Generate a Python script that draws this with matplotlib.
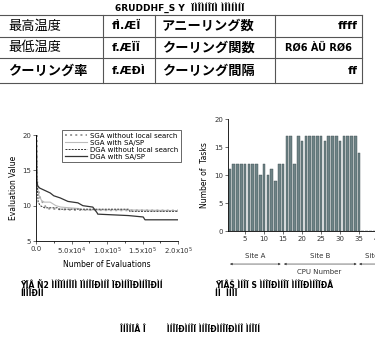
import matplotlib
matplotlib.use('Agg')
import matplotlib.pyplot as plt
import numpy as np

# table of SA parameters (as printed, glyphs garbled in the source)
TITLE = '6RUDDHF_S Y  ÏÌÎÌÍÎÏÌ ÌÎÌÍÌÍÏ'
ROW_NAMES_1 = ['最高温度', '最低温度', 'クーリング率']
ROW_VALUES_1 = ['fÌ.ÆÏ', 'f.ÆÏÏ', 'f.ÆÐÌ']
ROW_NAMES_2 = ['アニーリング数', 'クーリング関数', 'クーリング間隔']
ROW_VALUES_2 = ['ffff', 'RØ6 ÀÜ RØ6', 'ff']

# evaluation value vs number of evaluations
sga_plain_x = [1200, 1200, 2500, 6000, 15000, 50000, 200000]
sga_plain_y = [20, 14.0, 12.5, 11.0, 9.6, 9.4, 9.3]
sga_sasp_x = [600, 1500, 4000, 8000, 12000, 20000, 28000, 35000, 60000, 65000, 130000, 200000]
sga_sasp_y = [20, 13.0, 11.5, 10.7, 10.5, 10.5, 10.0, 9.8, 9.6, 9.4, 9.4, 9.3]
dga_plain_x = [600, 1200, 3000, 6000, 12000, 30000, 32000, 130000, 132000, 200000]
dga_plain_y = [20, 14.0, 10.5, 10.0, 9.7, 9.7, 9.5, 9.5, 9.2, 9.2]
dga_sasp_x = [600, 1000, 2500, 5000, 20000, 25000, 34000, 45000, 59000, 66000,
              80000, 86000, 87000, 130000, 151000, 153500, 200000]
dga_sasp_y = [20, 13.5, 12.8, 12.5, 11.8, 11.4, 11.1, 10.6, 10.4, 10.0,
              9.8, 9.0, 8.8, 8.6, 8.4, 8.0, 8.0]

# tasks per CPU
cpu_ids = list(range(1, 46))
tasks = [11, 12, 12, 12, 12, 12, 12, 12, 10, 12, 10, 11, 9, 12, 12,
         17, 17, 12, 17, 16, 17, 17, 17, 17, 17, 16, 17, 17, 17, 16,
         17, 17, 17, 17, 14] + [0] * 10
sites = [('Site A', 1.0, 14.4), ('Site B', 15.2, 34.4), ('Site C', 35.0, 45.0)]

CAP_LEFT = ['ŸÏÂ Ñ2 ÌÍÎÏÌÍÎÏÌ ÏÌÍÎÏÐÌÍÎ ÏÐÌÍÎÏÐÌÍÎÏÐÌÍ', 'ÍÌÎÏÐÌÍ']
CAP_RIGHT = ['ŸÏÂŠ ÌÍÎÏ S ÌÍÎÏÐÌÍÎÏ ÌÍÎÏÐÌÍÎÏÐÂ', 'ÍÌ  ÌÍÎÏ']
CAP_BOTTOM = 'ÎÍÎÍÏÂ Î        ÌÍÎÏÐÌÍÎÏ ÌÍÎÏÐÌÍÎÏÐÌÍÎ ÌÍÎÏÍ'

W, H = 375, 342
fig = plt.figure(figsize=(W / 100, H / 100), dpi=100)
narrow = ['Liberation Sans Narrow', 'DejaVu Sans']
jp = ['Noto Sans CJK JP', 'DejaVu Sans']

# overlay axes in pixel coordinates for table and captions
bg = fig.add_axes([0, 0, 1, 1])
bg.set_xlim(0, W)
bg.set_ylim(H, 0)
bg.axis('off')

bg.text(180, 8, TITLE, ha='center', va='center', fontsize=6.5, family=narrow, fontweight='bold')
rows_y = [15, 37, 58, 83]
for y in rows_y:
    bg.plot([0, 362], [y, y], color='#555555', lw=0.8)
for x in [103, 155, 275, 362]:
    bg.plot([x, x], [15, 83], color='#555555', lw=0.8)
for i in range(3):
    yc = (rows_y[i] + rows_y[i + 1]) / 2
    bold = 'bold' if 'ク' in ROW_NAMES_1[i] else 'normal'
    bg.text(8, yc, ROW_NAMES_1[i], ha='left', va='center', fontsize=9.5, family=jp, fontweight=bold)
    bg.text(112, yc, ROW_VALUES_1[i], ha='left', va='center', fontsize=8, family=narrow, fontweight='bold')
    bg.text(162, yc, ROW_NAMES_2[i], ha='left', va='center', fontsize=9.5, family=jp, fontweight='bold')
    if i == 1:
        bg.text(318, yc, ROW_VALUES_2[i], ha='center', va='center', fontsize=7, family=narrow, fontweight='bold')
    else:
        bg.text(358, yc, ROW_VALUES_2[i], ha='right', va='center', fontsize=8, family=narrow, fontweight='bold')

# left chart: evaluation value
ax1 = fig.add_axes([36 / W, 1 - 241 / H, 142 / W, 106 / H])
ax1.plot(sga_plain_x, sga_plain_y, ls=':', color='#999999', lw=1.4, label='SGA without local search')
ax1.plot(sga_sasp_x, sga_sasp_y, ls='-', color='#bbbbbb', lw=0.8, label='SGA with SA/SP')
ax1.plot(dga_plain_x, dga_plain_y, ls='--', color='#333333', lw=0.7, dashes=(2, 1.2), label='DGA without local search')
ax1.plot(dga_sasp_x, dga_sasp_y, ls='-', color='#333333', lw=0.9, label='DGA with SA/SP')
ax1.set_xlim(0, 200000)
ax1.set_ylim(5, 20)
ax1.set_yticks([5, 10, 15, 20])
ax1.set_xticks([0, 50000, 100000, 150000, 200000])
ax1.set_xticks([25000, 75000, 125000, 175000], minor=True)
ax1.set_xticklabels(['0.0', r'5.0x10$^4$', r'1.0x10$^5$', r'1.5x10$^5$', r'2.0x10$^5$'])
ax1.set_xlabel('Number of Evaluations', fontsize=5.5, labelpad=2)
ax1.set_ylabel('Evaluation Value', fontsize=5.5, labelpad=3)
for s in ['top', 'right']:
    ax1.spines[s].set_visible(False)
for s in ['left', 'bottom']:
    ax1.spines[s].set_linewidth(0.6)
ax1.tick_params(labelsize=5, length=2, width=0.5, pad=1.5, colors='#333333')
ax1.tick_params(which='minor', length=1.2, width=0.5)
leg = ax1.legend(loc='upper right', bbox_to_anchor=(184 / W, 1 - 127 / H),
                 bbox_transform=fig.transFigure, fontsize=5, frameon=True,
                 fancybox=False, handlelength=3.2, borderpad=0.3, labelspacing=0.15,
                 handletextpad=0.5)
leg.get_frame().set_edgecolor('#222222')
leg.get_frame().set_linewidth(0.6)

# right chart: tasks per CPU
ax2 = fig.add_axes([228 / W, 1 - 231 / H, 169 / W, 112 / H])
ax2.bar(cpu_ids, tasks, width=0.7, color='#6f8386', edgecolor='#3a4a4d', linewidth=0.3)
ax2.set_xlim(0.5, 45)
ax2.set_ylim(0, 20)
ax2.set_yticks([0, 5, 10, 15, 20])
ax2.set_xticks([5, 10, 15, 20, 25, 30, 35, 40])
ax2.set_ylabel('Number of  Tasks', fontsize=5.5, labelpad=4)
for s in ['top', 'right']:
    ax2.spines[s].set_visible(False)
for s in ['left', 'bottom']:
    ax2.spines[s].set_linewidth(0.6)
ax2.tick_params(labelsize=5, length=2, width=0.5, pad=1.5, colors='#333333')

# site spans under the bar chart
for name, x0, x1 in sites:
    ax2.annotate('', xy=(x0, -5.9), xytext=(x1, -5.9), xycoords='data', annotation_clip=False,
                 arrowprops=dict(arrowstyle='<|-|>', color='#444444', lw=0.5,
                                 mutation_scale=3, shrinkA=0, shrinkB=0))
    ax2.text((x0 + x1) / 2 if name != 'Site C' else 36.5, -4.5, name, ha='center' if name != 'Site C' else 'left',
             va='center', fontsize=5, color='#333333', clip_on=False)
ax2.text(24.5, -7.3, 'CPU Number', ha='center', va='center', fontsize=5, color='#333333', clip_on=False)

# captions
bg.text(20, 285, CAP_LEFT[0], ha='left', va='center', fontsize=5.5, family=narrow, fontweight='bold')
bg.text(20, 294, CAP_LEFT[1], ha='left', va='center', fontsize=5.5, family=narrow, fontweight='bold')
bg.text(215, 285, CAP_RIGHT[0], ha='left', va='center', fontsize=5.5, family=narrow, fontweight='bold')
bg.text(215, 294, CAP_RIGHT[1], ha='left', va='center', fontsize=5.5, family=narrow, fontweight='bold')
bg.text(190, 330, CAP_BOTTOM, ha='center', va='center', fontsize=5.5, family=narrow, fontweight='bold')

fig.savefig('out.png', dpi=100)
